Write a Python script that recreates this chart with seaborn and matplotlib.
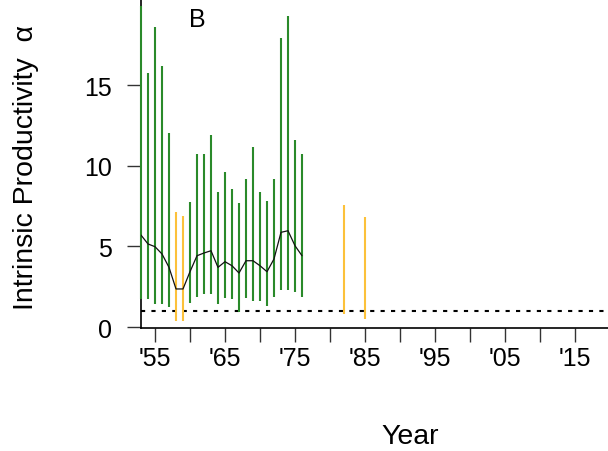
import matplotlib
matplotlib.use("Agg")
import matplotlib.pyplot as plt
import pandas as pd
import seaborn as sns

# Years with credible-interval bars (green)
years = list(range(1953, 1977))
upper = [19.9, 15.75, 18.57, 16.16, 12.0, 7.1, 6.88, 7.75, 10.72, 10.72, 11.92, 8.35,
         9.63, 8.56, 7.69, 9.18, 11.14, 8.35, 7.83, 9.18, 17.9, 19.3, 11.61, 10.7]
lower = [1.74, 1.74, 1.43, 1.43, 1.24, 0.39, 0.39, 1.49, 1.88, 2.05, 2.05, 1.43,
         1.8, 1.74, 0.93, 1.8, 1.63, 1.63, 1.32, 1.88, 2.31, 2.31, 2.15, 1.88]
median = [5.70, 5.15, 4.98, 4.53, 3.70, 2.36, 2.36, 3.43, 4.42, 4.59, 4.73, 3.70,
          4.05, 3.80, 3.35, 4.11, 4.11, 3.80, 3.43, 4.22, 5.87, 5.97, 5.04, 4.42]
# Years flagged in orange
flag_years = [1958, 1959, 1982, 1985]
flag_upper = [7.1, 6.88, 7.56, 6.84]
flag_lower = [0.39, 0.39, 0.81, 0.50]

xtick_pos = list(range(1955, 2020, 5))
xtick_labels = ["'55", "", "'65", "", "'75", "", "'85", "", "'95", "", "'05", "", "'15"]
ytick_pos = [0, 5, 10, 15]

GREEN = "#2a8a2a"
ORANGE = "#fcc13a"

sns.set_style("ticks")
plt.rcParams["font.family"] = ["Liberation Sans", "DejaVu Sans"]
plt.rcParams["text.color"] = "black"
plt.rcParams["xtick.labelcolor"] = "black"
plt.rcParams["ytick.labelcolor"] = "black"

fig = plt.figure(figsize=(6.08, 4.52), dpi=100)
# axes: left x=141px, right 608px, y=0 at 328px, top at 0px
ax = fig.add_axes([141 / 608, (452 - 329) / 452, (608 - 141) / 608, 329 / 452])

green_mask = [y not in flag_years for y in years]
ax.vlines([y for y, m in zip(years, green_mask) if m],
          [v for v, m in zip(lower, green_mask) if m],
          [v for v, m in zip(upper, green_mask) if m],
          color=GREEN, linewidth=1.5, zorder=3, clip_on=False)
ax.vlines(flag_years, flag_lower, flag_upper, color=ORANGE, linewidth=1.5, zorder=3)

df = pd.DataFrame({"year": years, "median": median})
sns.lineplot(data=df, x="year", y="median", color="#111111", linewidth=0.9, ax=ax, zorder=4)

ax.axhline(1, color="black", linewidth=1.5, linestyle=(0, (2, 3)), zorder=1)

ax.set_xlim(1953, 1953 + (608 - 141) / 7)
ax.set_ylim(-0.06, 328 / 16.13)
ax.set_xticks(xtick_pos)
ax.set_xticklabels(xtick_labels)
ax.set_yticks(ytick_pos)
ax.tick_params(axis="both", labelsize=18, length=10, width=1, color="#333333", pad=3)
ax.tick_params(axis="y", pad=11)
ax.set_xlabel("")
ax.set_ylabel("")
sns.despine(ax=ax)
ax.spines["left"].set_linewidth(1.2)
ax.spines["bottom"].set_linewidth(1.2)
ax.spines["left"].set_color("black")
ax.spines["bottom"].set_color("black")

fig.text(26 / 608, 1 - 168 / 452, "Intrinsic Productivity  \u03b1", rotation=90,
         ha="center", va="center", fontsize=20.5)
fig.text(410 / 608, 1 - 437 / 452, "Year", ha="center", va="center", fontsize=20.5)
fig.text(197 / 608, 1 - 20 / 452, "B", ha="center", va="center", fontsize=18)

fig.savefig("out.png", dpi=100)
plt.close(fig)
